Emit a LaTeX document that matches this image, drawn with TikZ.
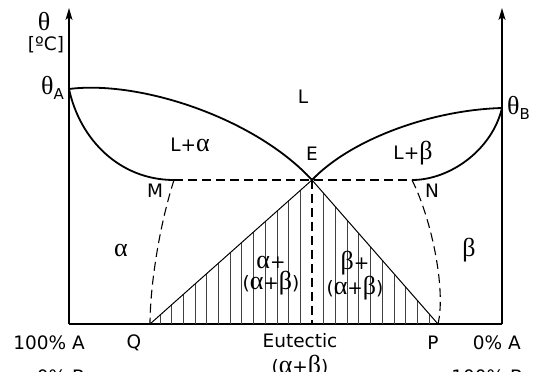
\documentclass[tikz,border=0pt]{standalone}
\usepackage{fontspec}
\setmainfont{DejaVu Sans}
\newfontfamily\grk{Liberation Serif}
\newcommand\gk[1]{{\grk\fontsize{26}{26}\selectfont #1}}
\usetikzlibrary{arrows.meta}
\begin{document}
\begin{tikzpicture}[x=1pt,y=-1pt,>={Stealth[length=12pt,width=7pt,inset=3pt]},line cap=butt,
    lbl/.style={font=\fontsize{18.5}{21}\selectfont,inner sep=0pt,align=center},
    axis/.style={line width=1.3pt},
    curve/.style={line width=1.8pt},
    dashline/.style={line width=1.1pt,dash pattern=on 9pt off 5pt},
    hatch/.style={line width=0.7pt,black!75}]
    \useasboundingbox (0,0) rectangle (541,372);

    \coordinate (O) at (69,324);
    \coordinate (R) at (502,324);
    \coordinate (Ot) at (69,8);
    \coordinate (Rt) at (502,8);
    \coordinate (A) at (69,89);
    \coordinate (B) at (502,108);
    \coordinate (E) at (312,180);
    \coordinate (F) at (312,324);
    \coordinate (M) at (174,180);
    \coordinate (N) at (412,180);
    \coordinate (Q) at (150,324);
    \coordinate (P) at (438,324);

    % axes
    \draw[axis,->] (O) -- (Ot);
    \draw[axis,->] (R) -- (Rt);
    \draw[axis] (O) -- (R);

    % hatched eutectic region
    \begin{scope}
        \clip (Q) -- (E) -- (P) -- cycle;
        \foreach \k in {-13,...,-1,1,2,...,10}
            \draw[hatch] (312+\k*11.7,170) -- (312+\k*11.7,330);
    \end{scope}
    \draw[line width=1pt] (Q) -- (E) -- (P);

    % liquidus and solidus
    \draw[curve] (A) .. controls (140,80) and (255,118) .. (E);
    \draw[curve] (E) .. controls (350,140) and (430,110) .. (B);
    \draw[curve] (A) .. controls (80,140) and (120,180) .. (M);
    \draw[curve] (B) .. controls (492,150) and (450,180) .. (N);

    % dashed lines
    \draw[dashline] (M) -- (N);
    \draw[dashline] (E) -- (F);
    \draw[dashline] (M) .. controls (158,230) and (150,290) .. (Q);
    \draw[dashline] (N) .. controls (432,220) and (446,290) .. (P);

    % labels
    \node[lbl] (th) at (44,22) {\gk{θ}};
    \node[lbl] (unit) at (46,45) {[ºC]};
    \node[lbl,anchor=east] (thA) at (64,88) {\gk{θ}\raisebox{-5pt}{\fontsize{15}{15}\selectfont A}};
    \node[lbl,anchor=west] (thB) at (507,108) {\gk{θ}\raisebox{-5pt}{\fontsize{15}{15}\selectfont B}};
    \node[lbl] (liq) at (303,97) {L};
    \node[lbl] (la) at (190,145) {L+\gk{α}};
    \node[lbl] (lb) at (413,153) {L+\gk{β}};
    \node[lbl] (e) at (312,154) {E};
    \node[lbl] (m) at (155,191) {M};
    \node[lbl] (n) at (432,191) {N};
    \node[lbl] (al) at (121,250) {\gk{α}};
    \node[lbl] (be) at (469,250) {\gk{β}};
    \node[lbl] (ab) at (271,276) {\gk{α}+\\(\gk{α}+\gk{β})};
    \node[lbl] (bb) at (355,276) {\gk{β}+\\(\gk{α}+\gk{β})};
    \node[lbl,anchor=east] (lA) at (85,343) {100\% A};
    \node[lbl,anchor=east] (lB) at (85,377) {0\% B};
    \node[lbl,anchor=east] (rA) at (521,343) {0\% A};
    \node[lbl,anchor=east] (rB) at (523,377) {100\% B};
    \node[lbl] (q) at (134,343) {Q};
    \node[lbl] (p) at (433,343) {P};
    \node[lbl] (eut) at (300,341) {Eutectic};
    \node[lbl] (eab) at (300,367) {(\gk{α}+\gk{β})};
\end{tikzpicture}
\end{document}
